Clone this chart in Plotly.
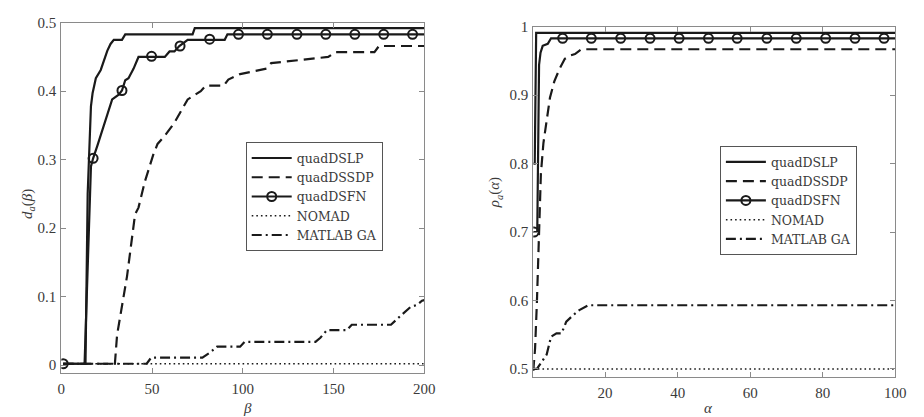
import plotly.graph_objects as go

# ---------------- Left panel: d_a(beta) ----------------
beta_dslp = [1, 13.3, 14.5, 15.4, 16.3, 17.2, 19.0, 21.7, 23.5, 25.3, 27.1, 28.9, 33.4, 35.2, 72.3, 73.5, 200]
d_dslp = [0.002, 0.002, 0.25, 0.33, 0.378, 0.397, 0.419, 0.431, 0.445, 0.459, 0.469, 0.475, 0.475, 0.483, 0.483, 0.492, 0.492]

beta_dssdp = [1, 29.5, 30.7, 33.5, 36.2, 40.6, 42.5, 46.0, 50.6, 53.0, 57.0, 62.3, 69.6, 76.8, 79.5, 89.4, 92.0,
              98.5, 113.0, 115.6, 147.0, 151.0, 172.5, 175.0, 200]
d_dssdp = [0.002, 0.002, 0.044, 0.09, 0.13, 0.22, 0.23, 0.268, 0.307, 0.323, 0.335, 0.354, 0.388, 0.40, 0.408, 0.408, 0.417,
           0.425, 0.433, 0.441, 0.45, 0.457, 0.457, 0.466, 0.466]

beta_dsfn = [1, 12.8, 16.3, 17.5, 19.9, 25.3, 28.0, 31.6, 33.4, 35.2, 37.0, 39.8, 42.5, 57.0, 59.6, 62.3, 65.0,
             69.6, 90.0, 91.5, 200]
d_dsfn = [0.002, 0.002, 0.29, 0.302, 0.321, 0.364, 0.388, 0.395, 0.401, 0.416, 0.419, 0.433, 0.45, 0.45, 0.458, 0.458, 0.466,
          0.475, 0.475, 0.483, 0.483]
beta_dsfn_mk = [1.0, 17.5, 33.4, 49.7, 65.4, 81.7, 97.6, 113.5, 129.8, 145.7, 161.7, 177.6, 193.5]
d_dsfn_mk = [0.002, 0.302, 0.401, 0.451, 0.466, 0.476, 0.483, 0.483, 0.483, 0.483, 0.483, 0.483, 0.483]

beta_nomad = [1, 200]
d_nomad = [0.002, 0.002]

beta_ga = [1, 47.0, 49.5, 77.7, 82.2, 85.8, 98.5, 101.0, 140.0, 142.7, 146.3, 157.2, 160.0, 181.6, 185.2, 188.8,
           192.4, 196.0, 198.7, 200]
d_ga = [0.002, 0.002, 0.011, 0.011, 0.019, 0.027, 0.027, 0.034, 0.034, 0.040, 0.051, 0.051, 0.059, 0.059, 0.068, 0.077,
        0.085, 0.088, 0.094, 0.095]

# ---------------- Right panel: rho_a(alpha) ----------------
alpha_dslp = [0.2, 0.6, 1.0, 100]
r_dslp = [0.80, 0.80, 0.991, 0.991]

alpha_dssdp = [0.2, 0.7, 1.2, 1.7, 2.3, 3.0, 3.9, 4.8, 6.0, 7.5, 8.9, 10.5, 11.7, 13.5, 100]
r_dssdp = [0.497, 0.53, 0.597, 0.69, 0.785, 0.83, 0.862, 0.896, 0.92, 0.939, 0.953, 0.958, 0.960, 0.967, 0.967]

alpha_dsfn = [0.2, 1.3, 1.8, 2.2, 2.8, 4.2, 5.1, 100]
r_dsfn = [0.70, 0.70, 0.944, 0.962, 0.972, 0.975, 0.983, 0.983]
alpha_dsfn_mk = [0.4, 8.3, 16.2, 24.3, 32.4, 40.4, 48.5, 56.4, 64.6, 72.7, 80.8, 88.9, 96.9]
r_dsfn_mk = [0.70, 0.983, 0.983, 0.983, 0.983, 0.983, 0.983, 0.983, 0.983, 0.983, 0.983, 0.983, 0.983]

alpha_nomad = [0.2, 100]
r_nomad = [0.50, 0.50]

alpha_ga = [0.2, 1.2, 2.1, 3.9, 5.1, 6.6, 8.0, 9.3, 11.1, 12.9, 15.4, 100]
r_ga = [0.50, 0.50, 0.507, 0.521, 0.547, 0.552, 0.552, 0.569, 0.578, 0.586, 0.593, 0.593]

names = ["quadDSLP", "quadDSSDP", "quadDSFN", "NOMAD", "MATLAB GA"]

INK = "#1a1a1a"
LW = 2.2
DASH = "11px,6px"
DOT = "1.6px,3px"
DASHDOT = "10px,4px,2px,4px"
FONT = "Liberation Serif"

fig = go.Figure()


def add_panel(xa, ya, leg, x1, y1, x2, y2, x3, y3, x3m, y3m, x4, y4, x5, y5):
    common = dict(xaxis=xa, yaxis=ya, legend=leg)
    fig.add_trace(go.Scatter(x=x1, y=y1, mode="lines", name=names[0],
                             line=dict(color=INK, width=LW), **common))
    fig.add_trace(go.Scatter(x=x2, y=y2, mode="lines", name=names[1],
                             line=dict(color=INK, width=LW, dash=DASH), **common))
    # legend entry for the marked series (line + marker)
    fig.add_trace(go.Scatter(x=[None], y=[None], mode="lines+markers", name=names[2],
                             line=dict(color=INK, width=LW),
                             marker=dict(symbol="circle-open", size=9, color=INK, line=dict(width=2, color=INK)),
                             **common))
    fig.add_trace(go.Scatter(x=x4, y=y4, mode="lines", name=names[3],
                             line=dict(color=INK, width=1.5, dash=DOT), **common))
    fig.add_trace(go.Scatter(x=x5, y=y5, mode="lines", name=names[4],
                             line=dict(color=INK, width=LW, dash=DASHDOT), **common))
    fig.add_trace(go.Scatter(x=x3, y=y3, mode="lines", name=names[2], showlegend=False,
                             line=dict(color=INK, width=LW), **common))
    fig.add_trace(go.Scatter(x=x3m, y=y3m, mode="markers", name=names[2], showlegend=False,
                             marker=dict(symbol="circle-open", size=9, color=INK, line=dict(width=2, color=INK)),
                             **common))


add_panel("x", "y", "legend", beta_dslp, d_dslp, beta_dssdp, d_dssdp, beta_dsfn, d_dsfn,
          beta_dsfn_mk, d_dsfn_mk, beta_nomad, d_nomad, beta_ga, d_ga)
add_panel("x2", "y2", "legend2", alpha_dslp, r_dslp, alpha_dssdp, r_dssdp, alpha_dsfn, r_dsfn,
          alpha_dsfn_mk, r_dsfn_mk, alpha_nomad, r_nomad, alpha_ga, r_ga)

W, H = 924, 417
AX_LINE = "#8a8a8a"
TICKFONT = dict(family=FONT, size=15, color="#3a3a3a")

axis_common = dict(showline=True, linecolor=AX_LINE, linewidth=1, mirror="ticks", ticks="inside",
                   ticklen=5, tickcolor=AX_LINE, tickwidth=1, showgrid=False, zeroline=False,
                   tickfont=TICKFONT)

legend_common = dict(font=dict(family="DejaVu Serif", size=12.5, color="#3a3a3a"), bgcolor="white",
                     bordercolor="#555555", borderwidth=1, xanchor="left", yanchor="top",
                     tracegroupgap=0, itemwidth=40)

fig.update_layout(
    width=W, height=H, margin=dict(l=0, r=0, t=0, b=0),
    paper_bgcolor="white", plot_bgcolor="white",
    xaxis=dict(domain=[58.3 / W, 427.3 / W], range=[0, 200], tickvals=[0, 50, 100, 150, 200],
               anchor="y", ticklabelstandoff=2, **axis_common),
    yaxis=dict(domain=[1 - 372.5 / H, 1 - 15 / H], range=[-0.012, 0.5],
               tickvals=[0, 0.1, 0.2, 0.3, 0.4, 0.5], anchor="x", ticklabelstandoff=1, **axis_common),
    xaxis2=dict(domain=[538 / W, 906 / W], range=[0.2, 100], tickvals=[20, 40, 60, 80, 100],
                anchor="y2", ticklabelstandoff=2, **axis_common),
    yaxis2=dict(domain=[1 - 376 / H, 1 - 19 / H], range=[0.4885, 1],
                tickvals=[0.5, 0.6, 0.7, 0.8, 0.9, 1], anchor="x2", ticklabelstandoff=1, **axis_common),
    legend=dict(x=245.7 / W, y=1 - 137 / H, **legend_common),
    legend2=dict(x=727.7 / W, y=1 - 141 / H, **legend_common),
    showlegend=True,
)

TITLEFONT = dict(family=FONT, size=15, color="#3a3a3a")
fig.add_annotation(text="<i>d</i><sub><i>a</i></sub>(<i>β</i>)", xref="paper", yref="paper",
                   x=13 / W, y=1 - 200 / H, showarrow=False, textangle=-90, font=TITLEFONT)
fig.add_annotation(text="<i>β</i>", xref="paper", yref="paper", yanchor="bottom",
                   x=242 / W, y=0, showarrow=False, font=TITLEFONT, borderpad=0)
fig.add_annotation(text="<i>ρ</i><sub><i>a</i></sub>(<i>α</i>)", xref="paper", yref="paper",
                   x=500 / W, y=1 - 188 / H, showarrow=False, textangle=-90, font=TITLEFONT)
fig.add_annotation(text="<i>α</i>", xref="paper", yref="paper", yanchor="bottom",
                   x=722 / W, y=0, showarrow=False, font=TITLEFONT, borderpad=0)

fig.write_html("out.html")
